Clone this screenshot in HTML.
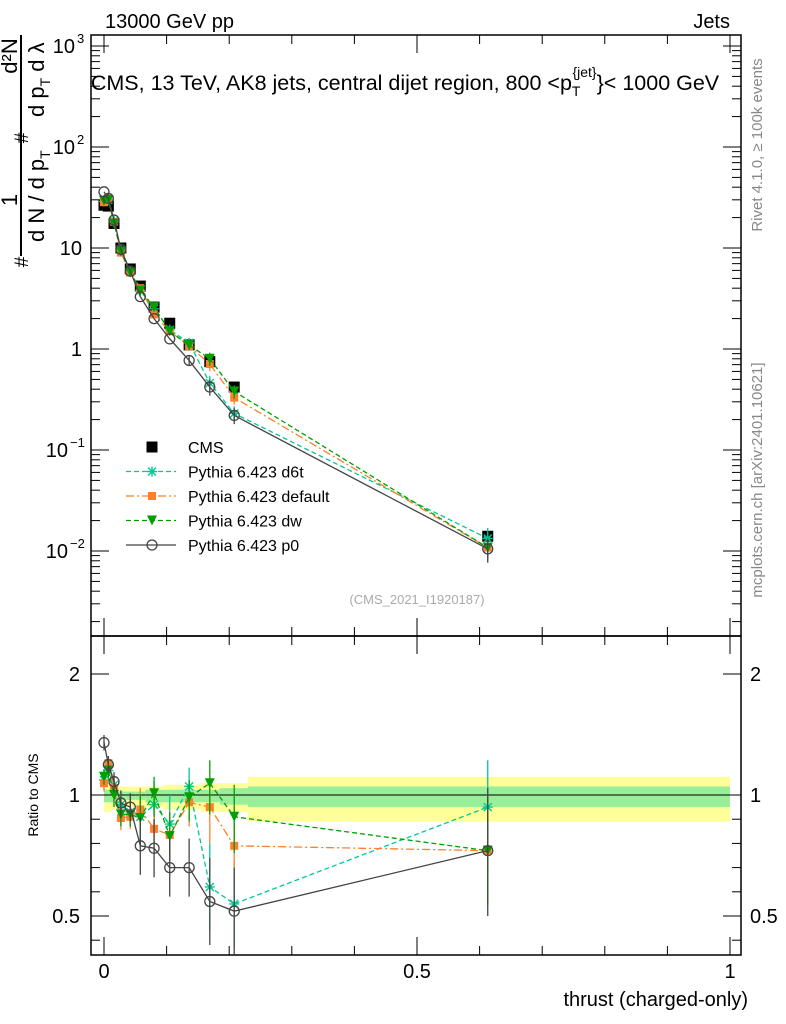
<!DOCTYPE html>
<html><head><meta charset="utf-8"><style>
body{margin:0;background:#fff}
svg{display:block;font-family:"Liberation Sans",sans-serif}
</style></head><body>
<svg id="c" width="786" height="1024" viewBox="0 0 786 1024" xmlns="http://www.w3.org/2000/svg">
<text x="105" y="28" font-size="20">13000 GeV pp</text>
<text x="730" y="28" font-size="20" text-anchor="end">Jets</text>
<text x="405" y="90" font-size="21.5" text-anchor="middle">CMS, 13 TeV, AK8 jets, central dijet region, 800 &lt;p<tspan font-size="14" dy="6">T</tspan><tspan font-size="14" dx="-8" dy="-19">{jet}</tspan><tspan dy="13">}&lt; 1000 GeV</tspan></text>
<g font-size="22">
<line x1="21" y1="35" x2="21" y2="256" stroke="#000" stroke-width="2"/>
<text transform="translate(17,200) rotate(-90)" text-anchor="middle">1</text>
<text transform="translate(17,56) rotate(-90)" text-anchor="middle">d²N</text>
<text transform="translate(28,262) rotate(-90)" text-anchor="middle" font-size="19">#</text>
<text transform="translate(28,138) rotate(-90)" text-anchor="middle" font-size="19">#</text>
<text transform="translate(44,242) rotate(-90)">d N / d p<tspan font-size="14" dy="6">T</tspan></text>
<text transform="translate(44,117) rotate(-90)">d p<tspan font-size="14" dy="6">T</tspan><tspan dy="-6"> d λ</tspan></text>
</g>
<text transform="translate(762,145) rotate(-90)" font-size="15" fill="#888" text-anchor="middle">Rivet 4.1.0, ≥ 100k events</text>
<text transform="translate(762,480) rotate(-90)" font-size="15" fill="#888" text-anchor="middle">mcplots.cern.ch [arXiv:2401.10621]</text>
<text x="417" y="604" font-size="13" fill="#aaa" text-anchor="middle">(CMS_2021_I1920187)</text>
<text transform="translate(38,795) rotate(-90)" font-size="14" text-anchor="middle">Ratio to CMS</text>
<text x="748" y="1006" font-size="20" text-anchor="end">thrust (charged-only)</text>
<g id="g"></g>
</svg>
<script>
const xs=[0.0,0.007,0.016,0.027,0.042,0.058,0.08,0.105,0.136,0.169,0.208,0.613];
const cms=[26.5,26,17.5,10,6.2,4.2,2.6,1.8,1.1,0.75,0.42,0.014];
const d6t=[28.9,29.9,18.5,9.6,5.8,3.8,2.5,1.55,1.15,0.46,0.23,0.0133];
const dflt=[28.4,31.2,18.2,9.0,5.7,4.0,2.2,1.5,1.07,0.71,0.33,0.0108];
const dw=[29.4,29.9,17.5,9.2,5.7,3.8,2.6,1.5,1.09,0.8,0.38,0.0108];
const p0=[36,31,18.9,9.7,5.9,3.3,2.0,1.26,0.77,0.42,0.22,0.0105];
const rD6t=[1.09,1.15,1.06,0.96,0.93,0.91,0.96,0.88,1.05,0.62,0.55,0.95];
const rDflt=[1.07,1.2,1.04,0.905,0.91,0.94,0.86,0.835,0.97,0.95,0.79,0.77];
const rDw=[1.11,1.15,1.0,0.92,0.92,0.905,1.01,0.83,0.99,1.07,0.91,0.77];
const rP0=[1.35,1.19,1.08,0.967,0.95,0.79,0.78,0.70,0.70,0.56,0.52,0.77];
const bandEdges=[0,0.012,0.02,0.035,0.05,0.066,0.095,0.115,0.155,0.185,0.23,1];
const bandIn=[0.03,0.03,0.02,0.02,0.02,0.03,0.03,0.03,0.03,0.04,0.05,0.05];
const bandOut=[0.07,0.06,0.05,0.05,0.05,0.05,0.06,0.06,0.07,0.07,0.11,0.11];
const L=91,R=741,T=35,M=636,B=955;
const X=v=>104+626*v;
const Y=v=>349-101*Math.log10(v);
const YR=v=>v>=1?795-121*Math.log2(v):795+242*(1-v);
const NS="http://www.w3.org/2000/svg",g=document.getElementById('g');
function mk(t,a,p){const e=document.createElementNS(NS,t);for(const k in a)e.setAttribute(k,a[k]);(p||g).appendChild(e);return e;}
for(let i=0;i<bandIn.length;i++){
 const x0=X(bandEdges[i]),x1=X(bandEdges[i+1]);
 const o=mk('rect',{x:x0,y:YR(1+bandOut[i]),width:x1-x0,height:YR(1-bandOut[i])-YR(1+bandOut[i]),fill:'#ffff99'});
 
 
 const n=mk('rect',{x:x0,y:YR(1+bandIn[i]),width:x1-x0,height:YR(1-bandIn[i])-YR(1+bandIn[i]),fill:'#99ee99'});
 
 
}
mk('line',{x1:L,x2:R,y1:YR(1),y2:YR(1),stroke:'#000'});
mk('rect',{x:L,y:T,width:R-L,height:M-T,fill:'none',stroke:'#000','stroke-width':1.5});
mk('rect',{x:L,y:M,width:R-L,height:B-M,fill:'none',stroke:'#000','stroke-width':1.5});
for(let i=0;i<=10;i++){const x=X(i/10),len=i%5==0?18:9;
 [[M,-1],[B,-1],[T,1],[M,1]].forEach(([y,d])=>mk('line',{x1:x,x2:x,y1:y,y2:y+d*len,stroke:'#000'}));}
[[0,'0'],[0.5,'0.5'],[1,'1']].forEach(([v,t])=>{const e=mk('text',{x:X(v),y:978,'font-size':20,'text-anchor':'middle'});e.textContent=t;
 
 });
for(let d=-3;d<=3;d++)for(let m=1;m<10;m++){const v=m*Math.pow(10,d),y=Y(v);if(y<T||y>M)continue;const len=m==1?18:9;
 mk('line',{x1:L,x2:L+len,y1:y,y2:y,stroke:'#000'});mk('line',{x1:R,x2:R-len,y1:y,y2:y,stroke:'#000'});}
const ul=[[1000,'10','3'],[100,'10','2'],[10,'10',''],[1,'1',''],[0.1,'10','−1'],[0.01,'10','−2']];
ul.forEach(([v,b,s])=>{const e=mk('text',{x:s?(s.length>1?68:75):82,y:Y(v)+7,'font-size':20,'text-anchor':'end'});e.textContent=b;
 
 
 if(s){const t=mk('text',{x:s.length>1?70:77,y:Y(v)-3,'font-size':13});t.textContent=s;}});
for(const v of [0.4,0.5,0.6,0.7,0.8,0.9,1,2]){const y=YR(v),len=(v==0.5||v==1||v==2)?18:9;
 mk('line',{x1:L,x2:L+len,y1:y,y2:y,stroke:'#000'});mk('line',{x1:R,x2:R-len,y1:y,y2:y,stroke:'#000'});}
[[0.5,'0.5'],[1,'1'],[2,'2']].forEach(([v,t])=>{
 const a=mk('text',{x:80,y:YR(v)+7,'font-size':20,'text-anchor':'end'});a.textContent=t;
 
 
 const b=mk('text',{x:750,y:YR(v)+7,'font-size':20});b.textContent=t;
 
 });
function marker(kind,x,y,c,p){
 if(kind=='sq')return mk('rect',{x:x-5.5,y:y-5.5,width:11,height:11,fill:c},p);
 if(kind=='sqs')return mk('rect',{x:x-4,y:y-4,width:8,height:8,fill:c},p);
 if(kind=='tri')return mk('path',{d:`M${x-5},${y-5}L${x+5},${y-5}L${x},${y+5}Z`,fill:c},p);
 if(kind=='circ')return mk('circle',{cx:x,cy:y,r:5,fill:'none',stroke:c,'stroke-width':1.3},p);
 if(kind=='star')return mk('path',{d:`M${x-5},${y}H${x+5}M${x},${y-5}V${y+5}M${x-4},${y-4}L${x+4},${y+4}M${x-4},${y+4}L${x+4},${y-4}`,stroke:c,'stroke-width':1.4},p);
}
xs.forEach((x,i)=>{const m=marker('sq',X(x),Y(cms[i]),'#000');
 
 });
const series=[
 {name:'d6t',up:d6t,r:rD6t,c:'#00c896',k:'star',dash:'5,3',err:0.06},
 {name:'default',up:dflt,r:rDflt,c:'#ff7f2a',k:'sqs',dash:'8,3,2,3',err:0.05},
 {name:'dw',up:dw,r:rDw,c:'#00a000',k:'tri',dash:'5,3',err:0.05},
 {name:'p0',up:p0,r:rP0,c:'#444',k:'circ',dash:'',err:0.06}];
series.forEach(s=>{
 const grp=mk('g',{});
 
 
 mk('polyline',{points:xs.map((x,i)=>X(x)+','+Y(s.up[i])).join(' '),fill:'none',stroke:s.c,'stroke-width':1.3,'stroke-dasharray':s.dash},grp);
 mk('polyline',{points:xs.map((x,i)=>X(x)+','+YR(s.r[i])).join(' '),fill:'none',stroke:s.c,'stroke-width':1.3,'stroke-dasharray':s.dash},grp);
 xs.forEach((x,i)=>{
  const e=s.err*(i>=5?2:1)*(i>=9?1.5:1)*(i==11?1.5:1);
  mk('line',{x1:X(x),x2:X(x),y1:YR(s.r[i]+e),y2:YR(s.r[i]-e),stroke:s.c,'stroke-width':1.3},grp);
  if(i>=8)mk('line',{x1:X(x),x2:X(x),y1:Y(s.up[i]*(1+e)),y2:Y(s.up[i]*(1-e)),stroke:s.c,'stroke-width':1.3},grp);
  const m1=marker(s.k,X(x),Y(s.up[i]),s.c,grp);
  
  
  const m2=marker(s.k,X(x),YR(s.r[i]),s.c,grp);
  
  
 });
});
const leg=[['CMS','#000','sq',''],['Pythia 6.423 d6t','#00c896','star','5,3'],['Pythia 6.423 default','#ff7f2a','sqs','8,3,2,3'],['Pythia 6.423 dw','#00a000','tri','5,3'],['Pythia 6.423 p0','#444','circ','']];
leg.forEach(([t,c,k,d],i)=>{const y=447+24.5*i;const lg=mk('g',{});
 
 
 if(i>0)mk('line',{x1:126,x2:176,y1:y,y2:y,stroke:c,'stroke-width':1.3,'stroke-dasharray':d},lg);
 marker(k,152,y,c,lg);
 const e=mk('text',{x:188,y:y+6,'font-size':16},lg);e.textContent=t;});
</script>
</body></html>
